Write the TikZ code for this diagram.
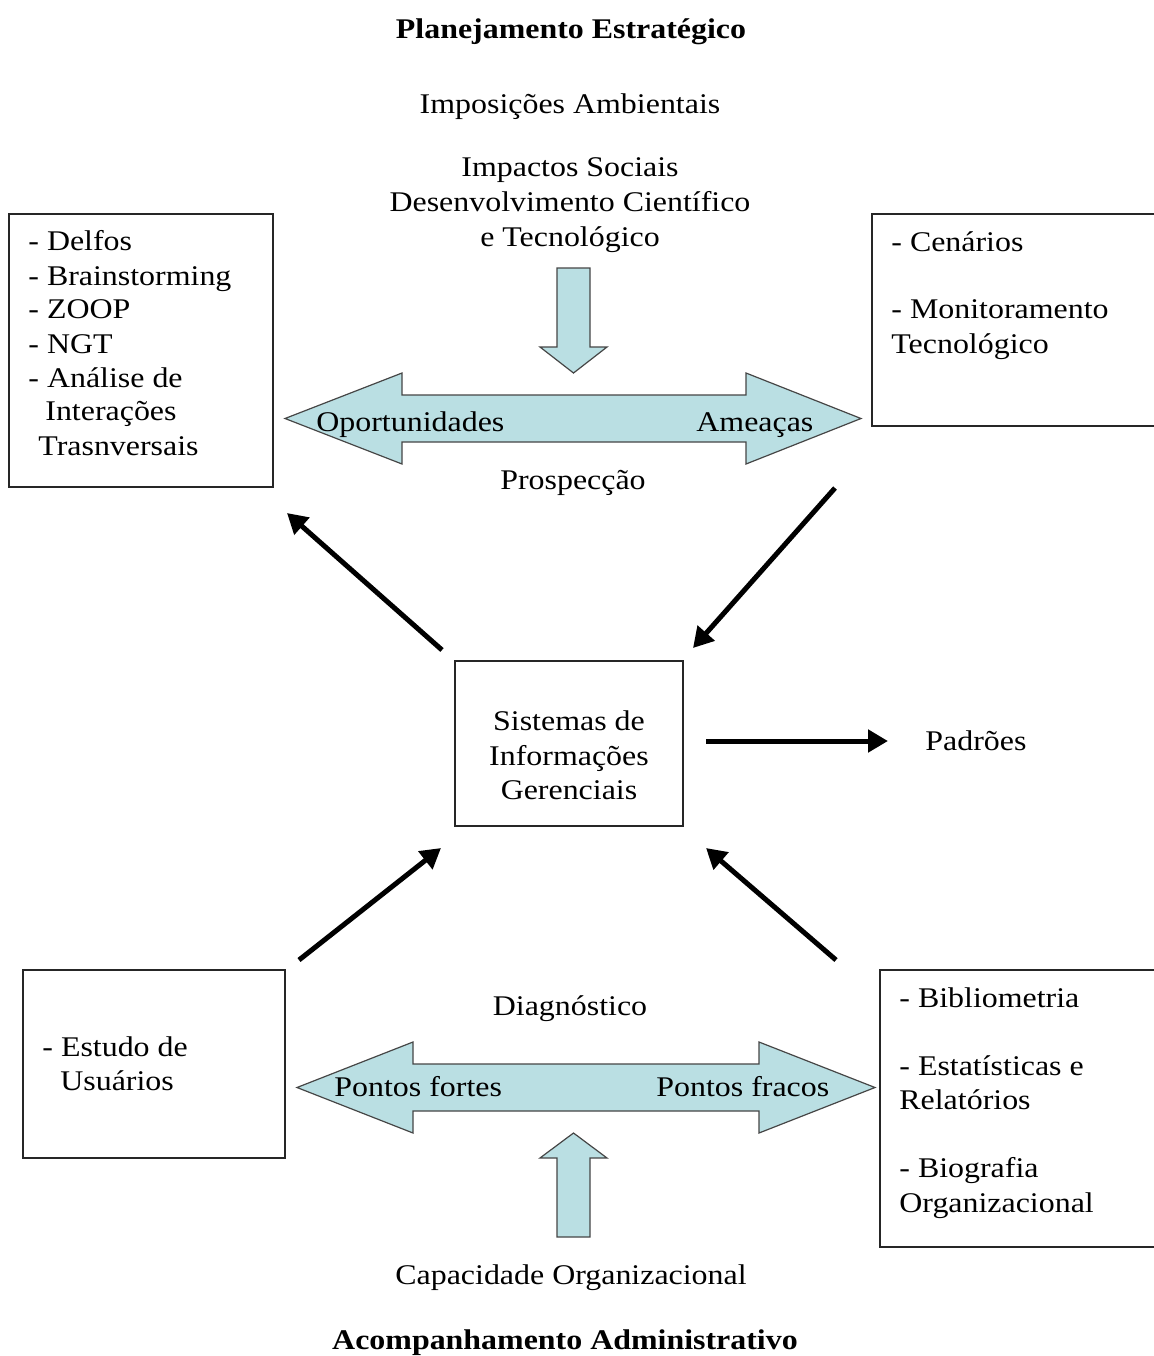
\documentclass[tikz,border=0pt]{standalone}
\usepackage{fontspec}
\setmainfont{Liberation Serif}[FakeStretch=1.12]
\usetikzlibrary{arrows.meta,fit}

\definecolor{bandfill}{RGB}{186,223,227}
\definecolor{bandline}{RGB}{70,70,70}

\tikzset{
  box/.style={draw=black!85, line width=0.8pt, inner sep=0pt},
  txt/.style={anchor=base, inner sep=0pt, font=\fontsize{14.25}{17.25}\selectfont},
  ltxt/.style={txt, anchor=base west},
  ttl/.style={txt, font=\fontsize{14.25}{17.25}\selectfont\bfseries},
  band/.style={fill=bandfill, draw=bandline, line width=0.6pt, line join=miter},
  flow/.style={line width=2.5pt, -{Triangle[length=10pt,width=11pt]}}
}

\begin{document}
\begin{tikzpicture}[x=0.5pt, y=-0.5pt]
\clip (0,0) rectangle (1154,1356);
\fill[white] (0,0) rectangle (1154,1356);

% titles
\node[ttl] (titletop) at (571,38) {Planejamento Estratégico};
\node[ttl] (titlebot) at (565,1349) {Acompanhamento Administrativo};

% upper external factors
\node[txt] (impamb) at (570,113) {Imposições Ambientais};
\node[txt] (impsoc) at (570,176) {Impactos Sociais};
\node[txt] (desenv) at (570,211) {Desenvolvimento Científico};
\node[txt] (etec) at (570,246) {e Tecnológico};

% downward arrow into the upper band
\draw[band] (557,268) -- (590,268) -- (590,347) -- (607,347) -- (573.5,373)
  -- (540,347) -- (557,347) -- cycle;

% upper double arrow band
\draw[band] (285,418.5) -- (402,373) -- (402,395) -- (746,395) -- (746,373)
  -- (861,418.5) -- (746,464) -- (746,442) -- (402,442) -- (402,464) -- cycle;
\node[ltxt] (oport) at (316,431) {Oportunidades};
\node[ltxt] (ameac) at (696,431) {Ameaças};
\node[txt] (prosp) at (573,489) {Prospecção};

% lower double arrow band
\draw[band] (297,1087.5) -- (413,1042) -- (413,1064) -- (759,1064) -- (759,1042)
  -- (875,1087.5) -- (759,1133) -- (759,1111) -- (413,1111) -- (413,1133) -- cycle;
\node[ltxt] (pfortes) at (334,1096) {Pontos fortes};
\node[ltxt] (pfracos) at (656,1096) {Pontos fracos};
\node[txt] (diag) at (570,1015) {Diagnóstico};

% upward arrow into the lower band
\draw[band] (573.5,1133) -- (607,1158) -- (590,1158) -- (590,1237) -- (557,1237)
  -- (557,1158) -- (540,1158) -- cycle;
\node[txt] (capac) at (571,1284) {Capacidade Organizacional};

% top-left box
\node[box, fit={(9,214) (273,487)}] (tlbox) {};
\node[ltxt] (tl1) at (28,250) {- Delfos};
\node[ltxt] (tl2) at (28,285) {- Brainstorming};
\node[ltxt] (tl3) at (28,318) {- ZOOP};
\node[ltxt] (tl4) at (28,353) {- NGT};
\node[ltxt] (tl5) at (28,387) {- Análise de};
\node[ltxt] (tl6) at (45,420) {Interações};
\node[ltxt] (tl7) at (38,455) {Trasnversais};

% top-right box
\node[box, fit={(872,214) (1175,426)}] (trbox) {};
\node[ltxt] (tr1) at (891,251) {- Cenários};
\node[ltxt] (tr2) at (891,318) {- Monitoramento};
\node[ltxt] (tr3) at (891,353) {Tecnológico};

% central box
\node[box, fit={(455,661) (683,826)}] (sig) {};
\node[txt] (sig1) at (569,730) {Sistemas de};
\node[txt] (sig2) at (569,765) {Informações};
\node[txt] (sig3) at (569,799) {Gerenciais};

\node[ltxt] (padroes) at (925,750) {Padrões};

% bottom-left box
\node[box, fit={(23,970) (285,1158)}] (blbox) {};
\node[ltxt] (bl1) at (42,1056) {- Estudo de};
\node[ltxt] (bl2) at (60,1090) {Usuários};

% bottom-right box
\node[box, fit={(880,970) (1175,1247)}] (brbox) {};
\node[ltxt] (br1) at (899,1007) {- Bibliometria};
\node[ltxt] (br2) at (899,1075) {- Estatísticas e};
\node[ltxt] (br3) at (899,1109) {Relatórios};
\node[ltxt] (br4) at (899,1177) {- Biografia};
\node[ltxt] (br5) at (899,1212) {Organizacional};

% connector end points
\coordinate (a1s) at (442,650);  \coordinate (a1e) at (287,513);
\coordinate (a2s) at (835,488);  \coordinate (a2e) at (693,648);
\coordinate (a3s) at (706,741);  \coordinate (a3e) at (888,741);
\coordinate (a4s) at (299,960);  \coordinate (a4e) at (441,848);
\coordinate (a5s) at (836,960);  \coordinate (a5e) at (706,848);

\draw[flow] (a1s) -- (a1e);
\draw[flow] (a2s) -- (a2e);
\draw[flow] (a3s) -- (a3e);
\draw[flow] (a4s) -- (a4e);
\draw[flow] (a5s) -- (a5e);
\end{tikzpicture}
\end{document}
